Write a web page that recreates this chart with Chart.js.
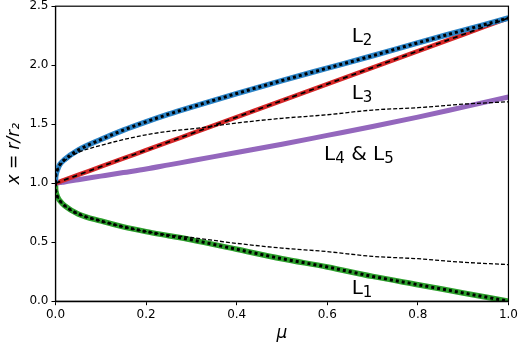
<!DOCTYPE html>
<html>
<head>
<meta charset="utf-8">
<script src="https://cdn.jsdelivr.net/npm/chart.js@4"></script>
<style>
  html, body { margin: 0; padding: 0; background: #fff; overflow: hidden; }
  #chart { display: block; margin-top: -4px; }
</style>
</head>
<body>
<canvas id="chart" width="520" height="350"></canvas>
<script>
// mass ratio values along the x axis
const mu = [0, 0.0002, 0.001, 0.005, 0.01, 0.02, 0.05, 0.1, 0.15, 0.2, 0.25, 0.3, 0.4, 0.5, 0.6, 0.7, 0.8, 0.9, 1.0];

const L1 = [1.0, 0.96, 0.93, 0.88, 0.85, 0.81, 0.74, 0.68, 0.63, 0.59, 0.555, 0.52, 0.44, 0.36, 0.29, 0.21, 0.14, 0.07, 0.0];
const L2 = [1.0, 1.04, 1.07, 1.12, 1.16, 1.20, 1.28, 1.37, 1.45, 1.52, 1.585, 1.645, 1.76, 1.87, 1.975, 2.08, 2.19, 2.295, 2.40];
const L3 = [1.0, 1.0003, 1.0014, 1.007, 1.014, 1.028, 1.07, 1.14, 1.21, 1.28, 1.35, 1.42, 1.56, 1.70, 1.84, 1.98, 2.12, 2.26, 2.40];
const L45 = [1.0, 1.0001, 1.0006, 1.003, 1.006, 1.011, 1.03, 1.06, 1.09, 1.12, 1.155, 1.19, 1.26, 1.33, 1.405, 1.48, 1.56, 1.645, 1.73];
// Hill-sphere approximation curves (thin dashed)
const hillUp = [1.0, 1.04, 1.07, 1.12, 1.15, 1.19, 1.26, 1.32, 1.37, 1.41, 1.44, 1.46, 1.51, 1.55, 1.58, 1.62, 1.64, 1.67, 1.69];
const hillLo = [1.0, 0.96, 0.93, 0.88, 0.85, 0.81, 0.74, 0.68, 0.63, 0.59, 0.56, 0.54, 0.49, 0.45, 0.42, 0.38, 0.36, 0.33, 0.31];

const xTicks = [0, 0.2, 0.4, 0.6, 0.8, 1.0];
const yTicks = [0, 0.5, 1.0, 1.5, 2.0, 2.5];

// curve labels: left edge (mu) and baseline (y) in data units
const labels = [
  { parts: [['L', 0], ['2', 1]], mu: 0.654, y: 2.20 },
  { parts: [['L', 0], ['3', 1]], mu: 0.654, y: 1.71 },
  { parts: [['L', 0], ['4', 1], [' & L', 0], ['5', 1]], mu: 0.593, y: 1.20 },
  { parts: [['L', 0], ['1', 1]], mu: 0.654, y: 0.06 }
];

function pts(ys) {
  return mu.map((m, i) => ({ x: m, y: ys[i] }));
}

function line(ys, color, width, dash, order) {
  return {
    data: pts(ys),
    borderColor: color,
    borderWidth: width,
    borderDash: dash,
    pointRadius: 0,
    fill: false,
    cubicInterpolationMode: 'monotone',
    order: order
  };
}

const frame = {
  id: 'frame',
  afterDraw(chart) {
    const { ctx, chartArea: a, scales } = chart;
    ctx.save();
    ctx.strokeStyle = '#000';
    ctx.lineWidth = 1.2;
    ctx.strokeRect(a.left, a.top, a.right - a.left, a.bottom - a.top);

    ctx.fillStyle = '#000';
    ctx.textBaseline = 'alphabetic';
    labels.forEach(l => {
      let x = scales.x.getPixelForValue(l.mu);
      const y = scales.y.getPixelForValue(l.y);
      l.parts.forEach(([txt, sub]) => {
        ctx.font = (sub ? 15 : 20) + 'px "DejaVu Sans"';
        ctx.fillText(txt, x, y + (sub ? 3 : 0));
        x += ctx.measureText(txt).width;
      });
    });
    ctx.restore();
  }
};

new Chart(document.getElementById('chart'), {
  type: 'line',
  data: {
    datasets: [
      line(L2, '#2b83c6', 5.5, [], 10),
      line(L2, '#000', 3, [3, 3], 1),
      line(L3, '#d62728', 4.5, [], 10),
      line(L3, '#000', 1.8, [5, 4], 1),
      line(L45, '#9467bd', 5, [], 10),
      line(L1, '#2ca02c', 5.5, [], 10),
      line(L1, '#000', 3, [3, 3], 1),
      line(hillUp, '#000', 1.3, [4, 2], 2),
      line(hillLo, '#000', 1.3, [4, 2], 2)
    ]
  },
  options: {
    responsive: false,
    animation: false,
    layout: { padding: { top: 0, right: 10, left: 4, bottom: 2 } },
    plugins: { legend: { display: false }, tooltip: { enabled: false } },
    scales: {
      x: {
        type: 'linear',
        min: 0, max: 1,
        afterBuildTicks: s => { s.ticks = xTicks.map(v => ({ value: v })); },
        ticks: { color: '#000', font: { family: 'DejaVu Sans', size: 12 }, padding: 2, maxRotation: 0,
                 callback: v => v.toFixed(1) },
        grid: { drawOnChartArea: false, drawTicks: true, tickLength: 4, color: '#000', tickWidth: 1 },
        border: { display: true, color: '#000', width: 1.2 },
        title: { display: true, text: 'μ', color: '#000', padding: { top: 0, bottom: 0 },
                 font: { family: 'DejaVu Sans', size: 17, style: 'italic' } }
      },
      y: {
        type: 'linear',
        min: 0, max: 2.5,
        afterBuildTicks: s => { s.ticks = yTicks.map(v => ({ value: v })); },
        ticks: { color: '#000', font: { family: 'DejaVu Sans', size: 12 }, padding: 3,
                 callback: v => v.toFixed(1) },
        grid: { drawOnChartArea: false, drawTicks: true, tickLength: 4, color: '#000', tickWidth: 1 },
        border: { display: true, color: '#000', width: 1.2 },
        title: { display: true, text: 'x = r/r₂', color: '#000', padding: { top: 0, bottom: 2 },
                 font: { family: 'DejaVu Sans', size: 17, style: 'italic' } }
      }
    }
  },
  plugins: [frame]
});
</script>
</body>
</html>
